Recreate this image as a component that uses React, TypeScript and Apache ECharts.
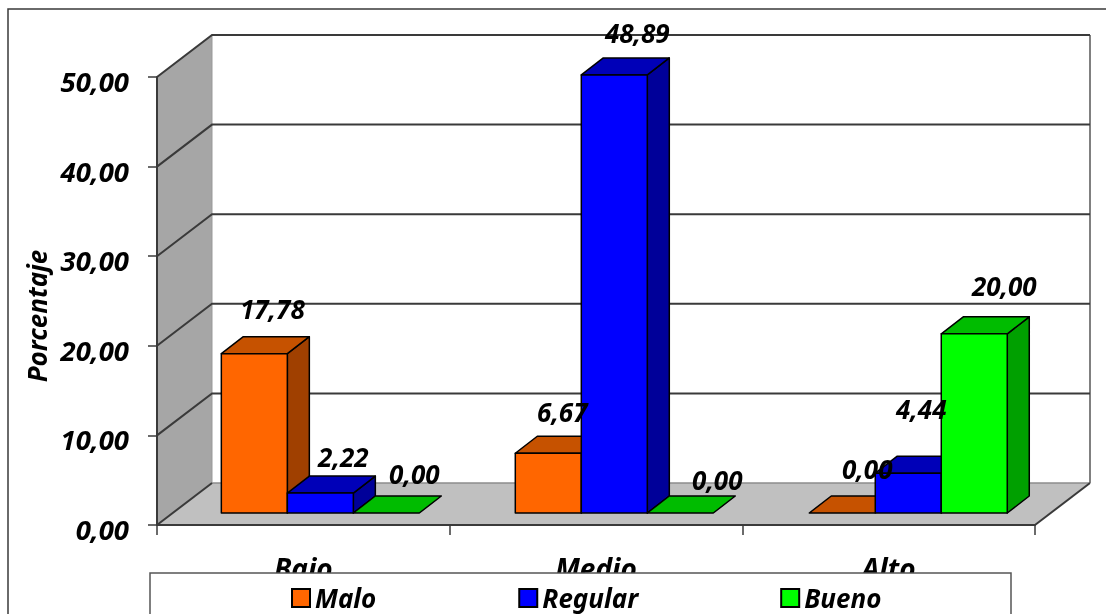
import React, { useEffect, useRef } from "react";
import * as echarts from "echarts";

const categories = ["Bajo", "Medio", "Alto"];
const yTicks = [10, 20, 30, 40, 50];
const malo = [17.78, 6.67, 0];
const regular = [2.22, 48.89, 4.44];
const bueno = [0, 0, 20];

const FONT = '"Noto Sans", sans-serif';
const WALL_DX = 55;
const WALL_DY = 42;
const FLOOR_DX = 17;
const FLOOR_DY = 12;
const DEPTH_DX = 22;
const DEPTH_DY = 17;
const BAR_W = 66;
const DRIFT = 1.3;

const palettes = [
  { name: "Malo", front: "#FF6600", top: "#C65200", side: "#A04000", values: malo },
  { name: "Regular", front: "#0000FF", top: "#0000B8", side: "#000099", values: regular },
  { name: "Bueno", front: "#00FF00", top: "#00BC00", side: "#00A000", values: bueno },
];

// label shift from the centre of the bar's front top edge, by series then category
const labelShift = [
  [[18, -45], [14, -41], [25, -44]],
  [[23, -36], [23, -42], [13, -64]],
  [[28, -39], [37, -33], [30, -48]],
];

const fmt = (v: number) => v.toFixed(2).replace(".", ",");
const bold = { fontFamily: FONT, fontWeight: "bold" as const, fontStyle: "italic" as const };

const barFrame = (api: any, slot: number) => {
  const cat = api.value(0);
  const v = api.value(1);
  const base = api.coord([cat, 0]);
  const top = api.coord([cat, v]);
  const xl = base[0] + FLOOR_DX + cat * DRIFT + (slot - 1.5) * BAR_W;
  return { xl, xr: xl + BAR_W, yb: base[1] - FLOOR_DY, yt: top[1] - FLOOR_DY, v };
};

const wallsItem = (params: any, api: any) => {
  const g = params.coordSys;
  const x0 = g.x;
  const x1 = g.x + g.width;
  const y0 = api.coord([0, 0])[1];
  const yTop = api.coord([0, 50])[1];
  const dark = { stroke: "#3a3a3a", lineWidth: 2 };
  const children: any[] = [
    { type: "polygon", shape: { points: [[x0 + WALL_DX, yTop - WALL_DY], [x1 + WALL_DX, yTop - WALL_DY], [x1 + WALL_DX, y0 - WALL_DY], [x0 + WALL_DX, y0 - WALL_DY]] }, style: { fill: "#fff" } },
    { type: "polygon", shape: { points: [[x0, yTop], [x0 + WALL_DX, yTop - WALL_DY], [x0 + WALL_DX, y0 - WALL_DY], [x0, y0]] }, style: { fill: "#A6A6A6" } },
    { type: "polygon", shape: { points: [[x0, y0], [x0 + WALL_DX, y0 - WALL_DY], [x1 + WALL_DX, y0 - WALL_DY], [x1, y0]] }, style: { fill: "#C0C0C0" } },
    { type: "line", shape: { x1: x0 + WALL_DX, y1: y0 - WALL_DY, x2: x1 + WALL_DX, y2: y0 - WALL_DY }, style: { stroke: "#8c8c8c", lineWidth: 1.5 } },
    { type: "line", shape: { x1: x1 + WALL_DX, y1: yTop - WALL_DY, x2: x1 + WALL_DX, y2: y0 - WALL_DY }, style: { stroke: "#808080", lineWidth: 2 } },
    { type: "line", shape: { x1: x0 + WALL_DX, y1: yTop - WALL_DY, x2: x0 + WALL_DX, y2: y0 - WALL_DY }, style: { stroke: "#999", lineWidth: 1 } },
    { type: "line", shape: { x1: x0, y1: y0, x2: x0 + WALL_DX, y2: y0 - WALL_DY }, style: dark },
    { type: "line", shape: { x1: x1, y1: y0, x2: x1 + WALL_DX, y2: y0 - WALL_DY }, style: dark },
  ];
  yTicks.forEach((t) => {
    const y = api.coord([0, t])[1];
    children.push({ type: "polyline", shape: { points: [[x0, y], [x0 + WALL_DX, y - WALL_DY], [x1 + WALL_DX, y - WALL_DY]] }, style: { ...dark, fill: "none" } });
  });
  return { type: "group", children };
};

const barItem = (slot: number) => (_params: any, api: any) => {
  const p = palettes[slot];
  const { xl, xr, yb, yt } = barFrame(api, slot);
  const edge = { stroke: "#000", lineWidth: 1.5, lineJoin: "round" };
  const h = yb - yt;
  const children: any[] = [];
  if (h > 0.5) {
    children.push({ type: "polygon", shape: { points: [[xr, yt], [xr + DEPTH_DX, yt - DEPTH_DY], [xr + DEPTH_DX, yb - DEPTH_DY], [xr, yb]] }, style: { fill: p.side, ...edge } });
  }
  children.push({ type: "polygon", shape: { points: [[xl, yt], [xl + DEPTH_DX, yt - DEPTH_DY], [xr + DEPTH_DX, yt - DEPTH_DY], [xr, yt]] }, style: { fill: p.top, ...edge } });
  if (h > 0.5) {
    children.push({ type: "rect", shape: { x: xl, y: yt, width: BAR_W, height: h }, style: { fill: p.front, ...edge } });
  }
  return { type: "group", children };
};

const labelItem = (slot: number) => (_params: any, api: any) => {
  const { xl, yt, v } = barFrame(api, slot);
  const shift = labelShift[slot][api.value(0)];
  return {
    type: "text",
    style: {
      x: xl + BAR_W / 2 + shift[0],
      y: yt + shift[1],
      text: fmt(v),
      align: "center",
      verticalAlign: "middle",
      fill: "#000",
      fontSize: 26,
      ...bold,
    },
  };
};

const toData = (vals: number[]) => vals.map((v, i) => [i, v]);

export default function App() {
  const ref = useRef<HTMLDivElement>(null);
  useEffect(() => {
    document.body.style.margin = "0";
    document.body.style.overflow = "hidden";
    const chart = echarts.init(ref.current!, undefined, { renderer: "svg" });
    chart.setOption({
      animation: false,
      backgroundColor: "#fff",
      grid: { left: 157, right: 71, top: 77, bottom: 89 },
      legend: {
        left: 291,
        top: 585,
        z: 60,
        padding: 0,
        itemGap: 142,
        itemWidth: 18,
        itemHeight: 18,
        icon: "rect",
        selectedMode: false,
        itemStyle: { borderColor: "#000", borderWidth: 2 },
        textStyle: { fontSize: 26, lineHeight: 24, color: "#000", ...bold },
        data: palettes.map((p) => p.name),
      },
      xAxis: {
        type: "category",
        data: categories,
        z: 3,
        axisLine: { show: true, lineStyle: { color: "#3a3a3a", width: 2 } },
        axisTick: { show: true, length: 10, lineStyle: { color: "#3a3a3a", width: 1.5 } },
        axisLabel: { margin: 29, fontSize: 28, color: "#000", ...bold },
      },
      yAxis: {
        type: "value",
        min: 0,
        max: 50,
        interval: 10,
        z: 3,
        name: "Porcentaje",
        nameLocation: "middle",
        nameRotate: 90,
        nameGap: 106,
        nameTextStyle: { fontSize: 26, color: "#000", padding: [0, 30, 0, 0], ...bold },
        axisLine: { show: true, lineStyle: { color: "#3a3a3a", width: 2 } },
        axisTick: { show: true, length: 9, lineStyle: { color: "#3a3a3a", width: 1.5 } },
        splitLine: { show: false },
        axisLabel: { margin: 28, fontSize: 27.5, color: "#000", verticalAlign: "top", lineHeight: 9, formatter: (v: number) => fmt(v), ...bold },
      },
      graphic: [
        { type: "rect", z: -1, shape: { x: 8, y: 9, width: 1300, height: 800 }, style: { fill: "#fff", stroke: "#3a3a3a", lineWidth: 1.5 } },
        { type: "rect", z: 50, shape: { x: 150, y: 573, width: 861, height: 80 }, style: { fill: "#fff", stroke: "#555", lineWidth: 1.5 } },
      ],
      series: [
        { type: "custom", name: "walls", z: 1, silent: true, clip: false, renderItem: wallsItem, data: [[0, 0]], encode: { x: 0, y: 1 } },
        ...palettes.map((p, slot) => ({
          type: "custom",
          name: p.name,
          z: 2,
          clip: false,
          itemStyle: { color: p.front },
          renderItem: barItem(slot),
          data: toData(p.values),
          encode: { x: 0, y: 1 },
        })),
        ...palettes.map((p, slot) => ({
          type: "custom",
          name: p.name + " etiquetas",
          z: 5,
          clip: false,
          silent: true,
          renderItem: labelItem(slot),
          data: toData(p.values),
          encode: { x: 0, y: 1 },
        })),
      ],
    });
    return () => chart.dispose();
  }, []);
  return <div ref={ref} style={{ position: "fixed", left: 0, top: 0, width: 1106, height: 614, filter: "blur(0.4px)" }} />;
}
